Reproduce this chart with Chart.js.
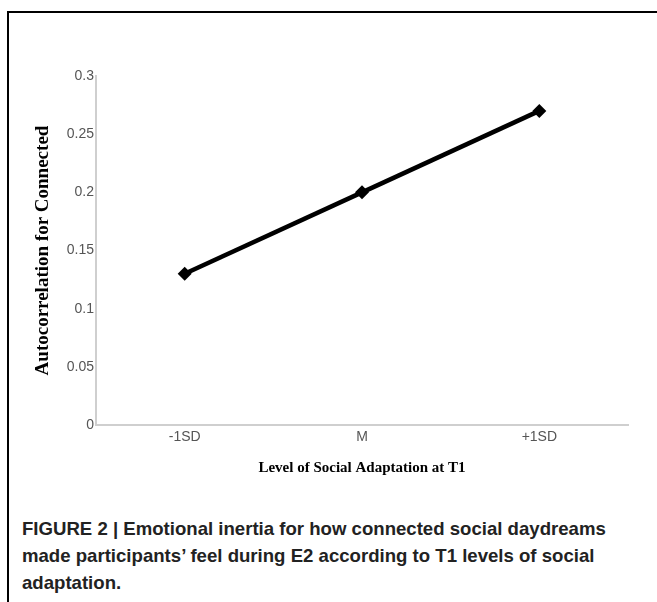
<!DOCTYPE html>
<html>
<head>
<meta charset="utf-8">
<script src="https://cdn.jsdelivr.net/npm/chart.js@4"></script>
<style>
  html, body { margin: 0; padding: 0; background: #fff; }
  #wrap { position: relative; width: 657px; height: 602px; overflow: hidden; }
  #frame { position: absolute; left: 7px; top: 11px; width: 660px; height: 600px;
           border-top: 2px solid #000; border-left: 2px solid #000; }
  #box { position: absolute; left: 0; top: 0; width: 657px; height: 481px; }
  #caption { position: absolute; left: 22px; top: 515px; width: 625px;
             font: bold 18.6px "Liberation Sans", Arial, sans-serif; line-height: 27px; color: #222; }
</style>
</head>
<body>
<div id="wrap">
  <div id="frame"></div>
  <div id="box"><canvas id="chart"></canvas></div>
  <div id="caption">FIGURE 2 | Emotional inertia for how connected social daydreams made participants’ feel during E2 according to T1 levels of social adaptation.</div>
</div>
<script>
const labels = ["-1SD", "M", "+1SD"];
const values = [0.13, 0.20, 0.27];
const yTicks = [0, 0.05, 0.1, 0.15, 0.2, 0.25, 0.3];
const yTickLabels = ["0", "0.05", "0.1", "0.15", "0.2", "0.25", "0.3"];

const tickFont = { family: "'Liberation Sans', Arial, sans-serif", size: 14 };
const xTitleFont = { family: "'Liberation Serif', 'Times New Roman', serif", size: 15, weight: "bold" };
const yTitleFont = { family: "'Liberation Serif', 'Times New Roman', serif", size: 19, weight: "bold" };

const ctx = document.getElementById("chart").getContext("2d");

new Chart(ctx, {
    type: "line",
    data: {
        labels: labels,
        datasets: [{
            data: values,
            borderColor: "#000",
            backgroundColor: "#000",
            borderWidth: 4.5,
            pointStyle: "rectRot",
            pointRadius: 7,
            pointBackgroundColor: "#000",
            pointBorderWidth: 0,
            tension: 0
        }]
    },
    options: {
        responsive: true,
        maintainAspectRatio: false,
        animation: false,
        layout: { padding: { left: 28, top: 76, right: 29, bottom: 0 } },
        plugins: { legend: { display: false }, tooltip: { enabled: false } },
        scales: {
            x: {
                offset: true,
                grid: { display: false, drawTicks: false },
                border: { color: "#cfcfcf", width: 2 },
                ticks: { color: "#555", font: tickFont, padding: 4 },
                title: { display: true, text: "Level of Social Adaptation at T1", color: "#000", font: xTitleFont },
                afterFit: s => { s.height = 56; }
            },
            y: {
                min: 0,
                max: 0.3,
                grid: { display: false, drawTicks: false },
                border: { color: "#cfcfcf", width: 2 },
                afterBuildTicks: s => { s.ticks = yTicks.map(v => ({ value: v })); },
                ticks: {
                    color: "#555",
                    font: tickFont,
                    padding: 2,
                    callback: v => yTickLabels[yTicks.indexOf(v)]
                },
                title: { display: true, text: "Autocorrelation for Connected", color: "#000", font: yTitleFont },
                afterFit: s => { s.width = 68; }
            }
        }
    }
});
</script>
</body>
</html>
